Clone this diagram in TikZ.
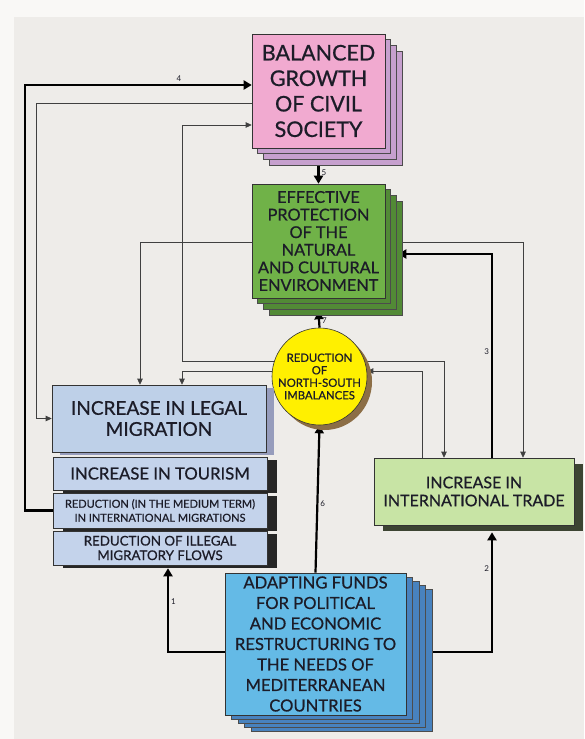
\documentclass[tikz,border=0pt]{standalone}
\usepackage{fontspec}
\setmainfont{Lato}
\newfontfamily\boxfont{Lato}[FakeBold=0.7]
\usetikzlibrary{arrows.meta,positioning,shadows,shapes.geometric,backgrounds}

\definecolor{outerwhite}{RGB}{249,248,246}
\definecolor{panelgray}{RGB}{238,236,233}
\definecolor{textdark}{RGB}{28,28,40}
\definecolor{pinkfill}{RGB}{241,170,208}
\definecolor{pinkshade}{RGB}{198,160,206}
\definecolor{greenfill}{RGB}{112,178,72}
\definecolor{greenshade}{RGB}{82,138,54}
\definecolor{sunyellow}{RGB}{255,240,0}
\definecolor{brownshade}{RGB}{140,110,70}
\definecolor{legalfill}{RGB}{190,208,232}
\definecolor{legalshade}{RGB}{150,156,188}
\definecolor{flowfill}{RGB}{196,211,235}
\definecolor{tradefill}{RGB}{200,228,165}
\definecolor{tradeshade}{RGB}{60,68,50}
\definecolor{fundfill}{RGB}{100,186,230}
\definecolor{fundshade}{RGB}{72,130,190}

\begin{document}
\begin{tikzpicture}[x=1pt, y=-1pt,
    box/.style={draw=black!80, line width=0.6pt, inner sep=0pt, align=center, text=textdark},
    pinkstack/.style={
      general shadow={fill=pinkshade, draw=black!70, shadow xshift=17pt, shadow yshift=-17pt},
      general shadow={fill=pinkshade, draw=black!70, shadow xshift=11pt, shadow yshift=-11pt},
      general shadow={fill=pinkshade, draw=black!70, shadow xshift=5pt, shadow yshift=-5pt}},
    greenstack/.style={
      general shadow={fill=greenshade, draw=black!70, shadow xshift=17pt, shadow yshift=-17pt},
      general shadow={fill=greenshade, draw=black!70, shadow xshift=11pt, shadow yshift=-11pt},
      general shadow={fill=greenshade, draw=black!70, shadow xshift=5pt, shadow yshift=-5pt}},
    fundstack/.style={
      general shadow={fill=fundshade, draw=black!70, shadow xshift=26pt, shadow yshift=-16pt},
      general shadow={fill=fundshade, draw=black!70, shadow xshift=19.5pt, shadow yshift=-12pt},
      general shadow={fill=fundshade, draw=black!70, shadow xshift=13pt, shadow yshift=-8pt},
      general shadow={fill=fundshade, draw=black!70, shadow xshift=6.5pt, shadow yshift=-4pt}},
    flowbox/.style={box, fill=flowfill, minimum width=214pt,
      general shadow={fill=black!85, shadow xshift=10pt, shadow yshift=-3pt}},
    thinarr/.style={draw=black!75, line width=0.7pt, -{Triangle[length=6pt,width=5.5pt]}},
    thickarr/.style={line width=2.2pt, -{Triangle[length=8pt,width=9pt]}},
    numlab/.style={font=\fontsize{8}{8}\selectfont, text=textdark, inner sep=2pt}
  ]
    \useasboundingbox (0,0) rectangle (584,739);
    \begin{scope}[on background layer]
      \fill[outerwhite] (0,0) rectangle (584,739);
      \fill[panelgray] (14,17) rectangle (584,739);
    \end{scope}

    % boxes
    \node[box, fill=pinkfill, pinkstack, minimum width=133pt, minimum height=114pt,
      font=\boxfont\fontsize{21.5}{25.5}\selectfont] (growth) at (318.5,91)
      {BALANCED\\GROWTH\\OF CIVIL\\SOCIETY};
    \node[box, fill=greenfill, greenstack, minimum width=133pt, minimum height=114pt,
      font=\boxfont\fontsize{16.3}{17.6}\selectfont] (protect) at (318.5,241)
      {EFFECTIVE\\PROTECTION\\OF THE\\NATURAL\\AND CULTURAL\\ENVIRONMENT};
    \node[ellipse, box, fill=sunyellow, minimum width=95pt, minimum height=97pt,
      inner xsep=-14pt, inner ysep=-6pt,
      general shadow={fill=brownshade, shadow xshift=5pt, shadow yshift=-5pt},
      font=\boxfont\fontsize{11.3}{12.5}\selectfont] (reduct) at (319.5,376.5)
      {REDUCTION\\OF\\NORTH-SOUTH\\IMBALANCES};
    \node[box, fill=legalfill, minimum width=214pt, minimum height=67pt,
      general shadow={fill=legalshade, shadow xshift=8pt, shadow yshift=-3pt},
      font=\boxfont\fontsize{19}{21}\selectfont] (legal) at (159,418.5)
      {INCREASE IN LEGAL\\MIGRATION};
    \node[flowbox, minimum height=33pt, font=\boxfont\fontsize{16.7}{19}\selectfont] (tourism) at (160,473.5)
      {INCREASE IN TOURISM};
    \node[flowbox, minimum height=35pt, font=\boxfont\fontsize{11}{14}\selectfont] (medium) at (160,510.5)
      {REDUCTION (IN THE MEDIUM TERM)\\IN INTERNATIONAL MIGRATIONS};
    \node[flowbox, minimum height=34pt, font=\boxfont\fontsize{13.3}{14.5}\selectfont] (illegal) at (160,548)
      {REDUCTION OF ILLEGAL\\MIGRATORY FLOWS};
    \node[box, fill=tradefill, minimum width=200pt, minimum height=67pt,
      general shadow={fill=tradeshade, shadow xshift=9pt, shadow yshift=-6pt},
      font=\boxfont\fontsize{16}{18}\selectfont] (trade) at (474,491.5)
      {INCREASE IN\\INTERNATIONAL TRADE};
    \node[box, fill=fundfill, fundstack, minimum width=181pt, minimum height=142pt,
      font=\boxfont\fontsize{16.6}{20.5}\selectfont] (adapt) at (315.5,644)
      {ADAPTING FUNDS\\FOR POLITICAL\\AND ECONOMIC\\RESTRUCTURING TO\\THE NEEDS OF\\MEDITERRANEAN\\COUNTRIES};

    % connectors
    \begin{scope}[on background layer]
      \draw[thickarr] (medium.west) -- ++(-28,0) |- ([yshift=6pt]growth.west)
        node[numlab, pos=0.84, above] {4};
      \draw[thinarr] ([yshift=-12pt]growth.west) -| ([xshift=-15pt]legal.west) -- (legal.west);
      \draw[thinarr] ([yshift=15.5pt]reduct.center) -- ++(-137.5,0) |- ([yshift=-34pt]growth.west);
      \draw[thinarr] ([yshift=15.5pt]reduct.center) -| ([xshift=-30pt]trade.north);
      \draw[thinarr] ([yshift=5.5pt]reduct.center) -| ([xshift=23pt]legal.north);
      \draw[thinarr] ([xshift=-52pt]trade.north) |- ([yshift=5.5pt]reduct.east);
      \draw[thinarr] ([yshift=-1pt]protect.west) -| ([xshift=-19pt]legal.north);
      \draw[thinarr] ([yshift=-1pt]protect.east) -| ([xshift=49pt]trade.north);
      \draw[thickarr] ([xshift=18pt]trade.north) |- ([xshift=13pt,yshift=-13pt]protect.east)
        node[numlab, pos=0.26, left] {3};
      \draw[thickarr] (growth.south) -- (protect.north)
        node[numlab, pos=0.7, right] {5};
      \draw[thickarr] (reduct.north) -- ([yshift=-13pt]protect.south)
        node[numlab, pos=0.45, right] {7};
      \draw[thickarr] (adapt.north) -- (reduct.south)
        node[numlab, pos=0.47, right] {6};
      \draw[thickarr] ([yshift=-8pt]adapt.west) -| ([xshift=8pt,yshift=-3pt]illegal.south)
        node[numlab, pos=0.8, right] {1};
      \draw[thickarr] ([yshift=-8pt]adapt.east) -| ([xshift=18pt,yshift=-7pt]trade.south)
        node[numlab, pos=0.85, left] {2};
    \end{scope}
\end{tikzpicture}
\end{document}
